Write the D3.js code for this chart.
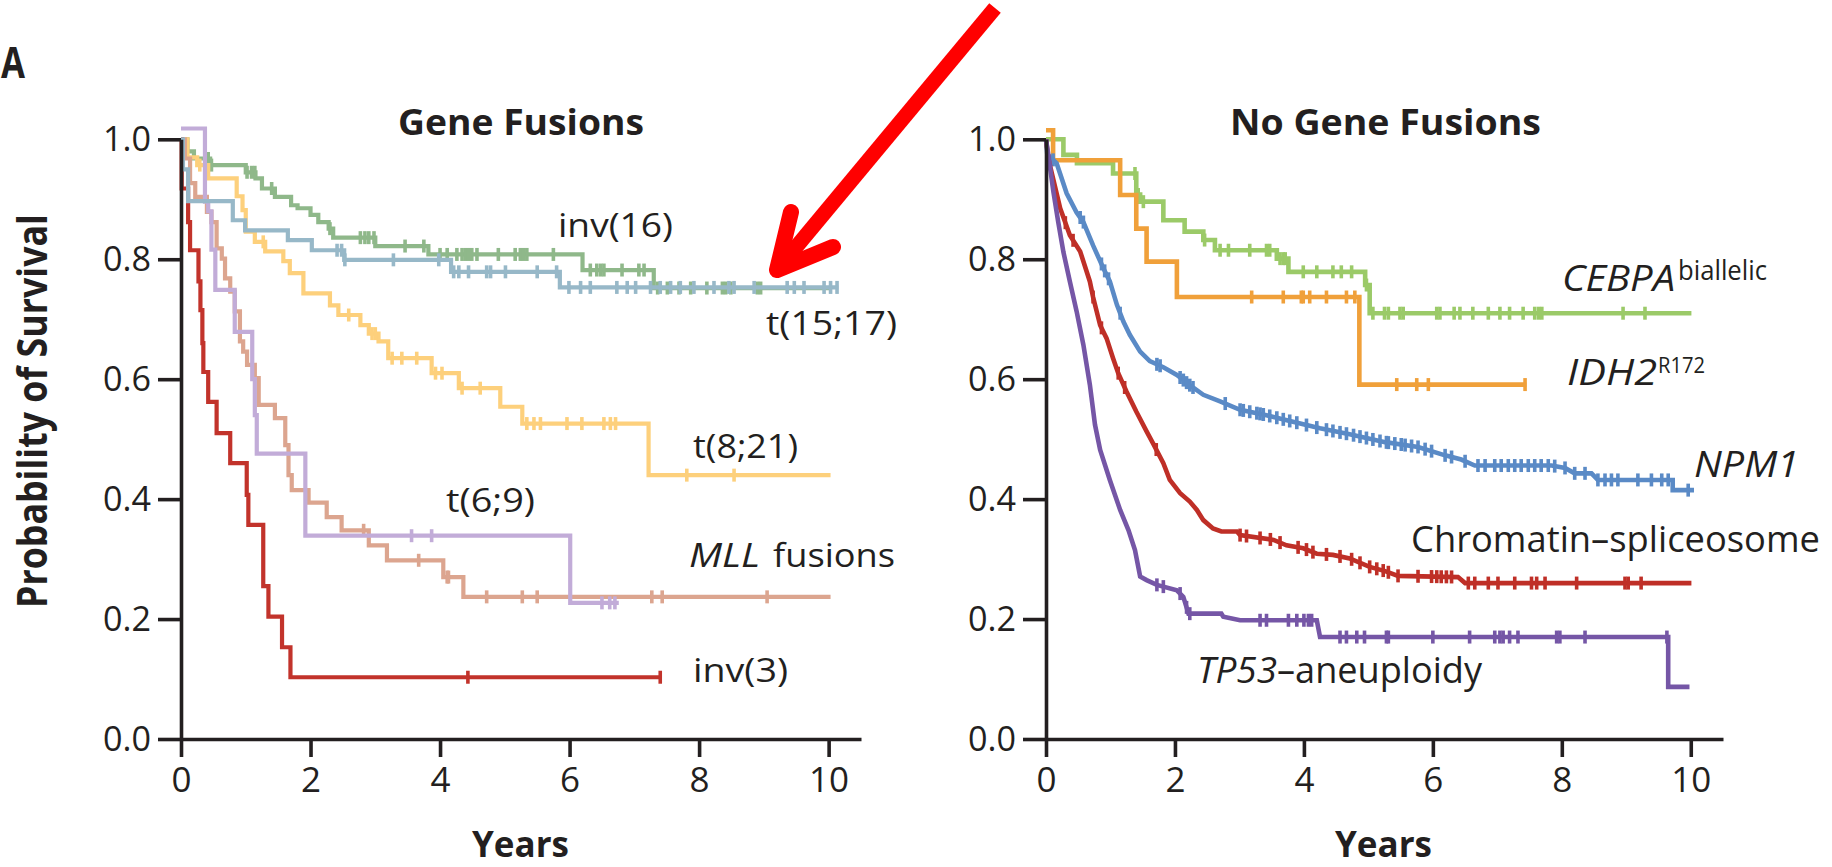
<!DOCTYPE html>
<html><head><meta charset="utf-8">
<script src="https://cdn.jsdelivr.net/npm/d3@7"></script>
<style>html,body{margin:0;padding:0;background:#fff;overflow:hidden}svg{display:block}</style>
</head><body>
<svg id="c" width="1832" height="867"></svg>
<script>
// ---------------- DATA ----------------
const yearTicks = [0, 2, 4, 6, 8, 10];
const survTicks = [0, 0.2, 0.4, 0.6, 0.8, 1.0];
const panelTitles = ["Gene Fusions", "No Gene Fusions"];
const axisTitles = ["Probability of Survival", "Years"];

// Left panel: gene fusions (Kaplan-Meier step points: time in years, survival)
const inv16T = [0, 0.1, 0.2, 0.45, 1.0, 1.15, 1.25, 1.45, 1.7, 1.8, 2.0, 2.12, 2.28, 2.35, 3.0, 3.82, 6.2, 7.3];
const inv16S = [1.0, 0.98, 0.968, 0.957, 0.945, 0.935, 0.918, 0.904, 0.89, 0.885, 0.874, 0.862, 0.851, 0.836, 0.822, 0.808, 0.782, 0.752];
const inv16End = 10.03;
const inv16C = [0.42, 0.47, 1.02, 1.09, 1.14, 1.40, 2.30, 2.77, 2.84, 2.90, 2.98, 3.46, 3.75, 4.0, 4.11, 4.26, 4.34, 4.39, 4.44, 4.49, 4.57, 4.90, 5.16, 5.24, 5.29, 5.34, 5.75, 6.32, 6.42, 6.48, 6.53, 6.81, 7.07, 7.15, 7.36, 7.51, 7.69, 7.87, 8.12, 8.36, 8.41, 8.49, 8.90, 8.95];

const t1517T = [0, 0.03, 0.11, 0.8, 0.99, 1.65, 2.02, 2.52, 4.17, 5.85];
const t1517S = [1.0, 0.95, 0.897, 0.865, 0.848, 0.832, 0.815, 0.799, 0.779, 0.753];
const t1517End = 10.15;
const t1517C = [2.41, 2.48, 2.53, 3.28, 3.98, 4.21, 4.29, 4.44, 4.72, 4.78, 5.01, 5.50, 5.80, 5.99, 6.17, 6.32, 6.73, 6.89, 7.02, 7.25, 7.40, 7.56, 7.71, 7.92, 8.23, 8.46, 8.54, 8.85, 9.36, 9.47, 9.62, 9.93, 10.03, 10.13];

const t821T = [0, 0.1, 0.25, 0.42, 0.86, 0.95, 1.0, 1.14, 1.30, 1.58, 1.68, 1.89, 2.30, 2.43, 2.77, 2.90, 3.05, 3.20, 3.87, 4.29, 4.93, 5.27, 7.22];
const t821S = [1.0, 0.97, 0.957, 0.935, 0.905, 0.882, 0.846, 0.829, 0.813, 0.797, 0.777, 0.743, 0.723, 0.707, 0.690, 0.676, 0.663, 0.635, 0.610, 0.585, 0.554, 0.526, 0.440];
const t821End = 10.03;
const t821C = [0.29, 0.37, 1.27, 2.59, 2.95, 3.0, 3.26, 3.41, 3.64, 3.93, 4.03, 4.34, 4.62, 5.34, 5.45, 5.55, 5.96, 6.19, 6.53, 6.63, 6.71, 7.81, 8.54];

const t69T = [0, 0.37, 0.42, 0.47, 0.53, 0.83, 1.1, 1.14, 1.17, 1.92, 6.01];
const t69S = [1.018, 0.896, 0.88, 0.816, 0.749, 0.679, 0.6, 0.54, 0.476, 0.339, 0.227];
const t69End = 6.76;
const t69C = [3.56, 3.87, 6.50, 6.62, 6.70];

const mllT = [0, 0.06, 0.14, 0.22, 0.40, 0.47, 0.55, 0.63, 0.68, 0.76, 0.83, 0.91, 0.96, 1.02, 1.14, 1.20, 1.45, 1.61, 1.66, 1.71, 1.97, 2.25, 2.48, 2.90, 3.18, 4.05, 4.36];
const mllS = [1.0, 0.968, 0.927, 0.904, 0.879, 0.862, 0.818, 0.801, 0.768, 0.746, 0.713, 0.663, 0.646, 0.624, 0.602, 0.557, 0.535, 0.49, 0.44, 0.415, 0.394, 0.370, 0.348, 0.323, 0.298, 0.27, 0.237];
const mllEnd = 10.03;
const mllC = [2.82, 3.67, 4.11, 4.13, 4.72, 5.27, 5.50, 7.27, 7.43, 9.05];

const inv3T = [0, 0.01, 0.11, 0.14, 0.27, 0.30, 0.33, 0.345, 0.42, 0.55, 0.76, 1.015, 1.04, 1.27, 1.35, 1.56, 1.69];
const inv3S = [1.0, 0.918, 0.862, 0.815, 0.763, 0.715, 0.66, 0.612, 0.562, 0.510, 0.46, 0.407, 0.357, 0.255, 0.204, 0.153, 0.103];
const inv3End = 7.40;
const inv3C = [4.43, 7.40];

// Right panel: no gene fusions
const cebpaT = [0, 0.27, 0.48, 1.04, 1.40, 1.46, 1.82, 2.15, 2.44, 2.62, 3.58, 3.76, 4.95, 5.02];
const cebpaS = [1.0, 0.974, 0.96, 0.943, 0.908, 0.896, 0.865, 0.846, 0.832, 0.815, 0.801, 0.779, 0.757, 0.710];
const cebpaEnd = 10.01;
const cebpaC = [1.38, 1.43, 1.51, 2.46, 2.70, 2.83, 3.16, 3.42, 3.47, 3.63, 3.68, 3.71, 3.99, 4.20, 4.45, 4.58, 4.74, 4.97, 5.07, 5.25, 5.31, 5.49, 5.54, 6.06, 6.11, 6.33, 6.42, 6.62, 6.86, 7.04, 7.19, 7.40, 7.58, 7.64, 7.69, 8.95, 9.29];

const idh2T = [0, 0.11, 1.15, 1.40, 1.56, 2.03, 4.86];
const idh2S = [1.015, 0.965, 0.907, 0.851, 0.796, 0.737, 0.591];
const idh2End = 7.45;
const idh2C = [3.19, 3.68, 3.96, 3.99, 4.09, 4.35, 4.66, 4.79, 5.44, 5.75, 5.93, 7.43];

const npm1T = [0, 0.02, 0.165, 0.32, 0.475, 0.58, 0.73, 0.89, 0.99, 1.10, 1.20, 1.30, 1.46, 1.61, 1.82, 2.03, 2.23, 2.44, 2.70, 3.01, 3.42, 3.83, 4.25, 4.71, 5.26, 5.77, 6.19, 6.44, 6.65, 7.84, 8.05, 8.20, 8.46, 8.56, 9.72, 9.72, 10.05];
const npm1S = [1.0, 0.975, 0.96, 0.91, 0.878, 0.862, 0.823, 0.785, 0.763, 0.724, 0.696, 0.674, 0.646, 0.63, 0.62, 0.607, 0.59, 0.574, 0.563, 0.549, 0.54, 0.529, 0.518, 0.508, 0.495, 0.487, 0.473, 0.466, 0.456, 0.456, 0.452, 0.443, 0.443, 0.432, 0.432, 0.415, 0.415];
const npm1C = [0.11, 0.53, 0.58, 0.86, 0.91, 0.97, 1.15, 1.72, 1.77, 2.08, 2.13, 2.18, 2.23, 2.28, 2.78, 3.01, 3.06, 3.16, 3.27, 3.32, 3.37, 3.47, 3.58, 3.68, 3.78, 3.89, 4.04, 4.2, 4.35, 4.45, 4.56, 4.66, 4.77, 4.87, 4.97, 5.07, 5.18, 5.28, 5.31, 5.41, 5.51, 5.57, 5.67, 5.77, 5.88, 5.98, 6.19, 6.29, 6.5, 6.7, 6.81, 6.96, 7.06, 7.17, 7.27, 7.37, 7.48, 7.58, 7.68, 7.79, 7.89, 8.05, 8.2, 8.36, 8.56, 8.67, 8.77, 8.87, 9.18, 9.39, 9.55, 9.65, 9.96];

const chromT = [0, 0.036, 0.22, 0.37, 0.53, 0.68, 0.73, 0.84, 0.94, 1.04, 1.12, 1.25, 1.40, 1.56, 1.66, 1.82, 1.92, 2.08, 2.23, 2.34, 2.44, 2.59, 2.72, 2.96, 3.01, 3.53, 3.73, 3.99, 4.20, 4.45, 4.71, 5.02, 5.26, 5.46, 6.39, 6.50, 10.01];
const chromS = [1.0, 0.968, 0.885, 0.840, 0.813, 0.763, 0.737, 0.690, 0.668, 0.635, 0.610, 0.579, 0.546, 0.513, 0.493, 0.46, 0.432, 0.41, 0.396, 0.382, 0.365, 0.351, 0.346, 0.346, 0.34, 0.332, 0.323, 0.318, 0.309, 0.307, 0.301, 0.287, 0.28, 0.272, 0.27, 0.26, 0.26];
const chromC = [0.30, 0.42, 0.73, 0.86, 1.12, 1.22, 1.71, 3.01, 3.11, 3.32, 3.48, 3.63, 3.91, 4.04, 4.14, 4.35, 4.56, 4.74, 4.87, 5.02, 5.13, 5.23, 5.31, 5.46, 5.77, 5.98, 6.06, 6.13, 6.21, 6.29, 6.55, 6.65, 6.86, 7.01, 7.27, 7.53, 7.61, 7.74, 8.23, 8.98, 9.03, 9.23];

const tp53T = [0, 0.036, 0.114, 0.19, 0.27, 0.37, 0.475, 0.58, 0.68, 0.76, 0.84, 0.99, 1.15, 1.28, 1.38, 1.46, 1.56, 1.72, 2.03, 2.13, 2.21, 2.72, 2.75, 3.01, 4.20, 4.25, 9.65, 9.65, 9.98];
const tp53S = [1.0, 0.974, 0.913, 0.862, 0.812, 0.763, 0.713, 0.657, 0.591, 0.524, 0.482, 0.432, 0.382, 0.348, 0.315, 0.271, 0.265, 0.257, 0.248, 0.237, 0.209, 0.209, 0.204, 0.198, 0.198, 0.170, 0.170, 0.087, 0.087];
const tp53C = [1.72, 1.82, 2.08, 2.18, 2.23, 3.32, 3.42, 3.76, 3.89, 4.0, 4.07, 4.12, 4.56, 4.66, 4.82, 4.94, 5.28, 5.31, 6.0, 6.57, 6.96, 7.04, 7.09, 7.19, 7.32, 7.92, 7.97, 8.36, 9.63];

// ---------------- SERIES TABLES ----------------
const leftSeries = [
  {name: "inv(16)",  t: inv16T, s: inv16S, end: inv16End, c: inv16C, color: "#8fb88a", step: true},
  {name: "t(8;21)",  t: t821T,  s: t821S,  end: t821End,  c: t821C,  color: "#fdd07c", step: true},
  {name: "MLL fusions", t: mllT, s: mllS,  end: mllEnd,   c: mllC,   color: "#dca58f", step: true},
  {name: "t(6;9)",   t: t69T,   s: t69S,   end: t69End,   c: t69C,   color: "#c2acd8", step: true},
  {name: "inv(3)",   t: inv3T,  s: inv3S,  end: inv3End,  c: inv3C,  color: "#c2332b", step: true},
  {name: "t(15;17)", t: t1517T, s: t1517S, end: t1517End, c: t1517C, color: "#97b8c8", step: true}
];
const rightSeries = [
  {name: "CEBPA", t: cebpaT, s: cebpaS, end: cebpaEnd, c: cebpaC, color: "#9bca68", step: true},
  {name: "IDH2",  t: idh2T,  s: idh2S,  end: idh2End,  c: idh2C,  color: "#f0a03a", step: true},
  {name: "NPM1",  t: npm1T,  s: npm1S,  c: npm1C,  color: "#5a8ac6", step: false},
  {name: "Chromatin–spliceosome", t: chromT, s: chromS, c: chromC, color: "#bf2f27", step: false},
  {name: "TP53–aneuploidy", t: tp53T, s: tp53S, c: tp53C, color: "#7556a6", step: false}
];

// ---------------- DRAWING ----------------
const svg = d3.select("#c");
const FONT = "'Open Sans', 'Noto Sans', sans-serif";
const INK = "#231f20";

const y = d3.scaleLinear().domain([0, 1]).range([739, 139.3]);
const xL = d3.scaleLinear().domain([0, 10.5]).range([181, 861]);
const xR = d3.scaleLinear().domain([0, 10.5]).range([1046, 1723]);

function drawAxes(x) {
  const gy = svg.append("g").attr("transform", `translate(${x(0)},0)`).attr("color", INK)
    .call(d3.axisLeft(y).tickValues(survTicks).tickFormat(d3.format(".1f"))
      .tickSize(23).tickSizeOuter(0).tickPadding(7));
  const gx = svg.append("g").attr("transform", `translate(0,${y(0)})`).attr("color", INK)
    .call(d3.axisBottom(x).tickValues(yearTicks).tickFormat(d3.format("d"))
      .tickSize(18).tickSizeOuter(0).tickPadding(10));
  [gx, gy].forEach(g => {
    g.selectAll("path, line").attr("stroke-width", 3.6);
    g.selectAll("text").attr("font-family", FONT).attr("font-size", 35).attr("fill", INK);
  });
  gy.selectAll("text").attr("textLength", 48).attr("lengthAdjust", "spacingAndGlyphs");
}

function evalS(se, t) {
  const T = se.t, S = se.s;
  if (se.step) {
    let v = S[0];
    for (let i = 0; i < T.length; i++) if (T[i] <= t) v = S[i];
    return v;
  }
  for (let i = 0; i < T.length - 1; i++) {
    if (t >= T[i] && t < T[i + 1]) return S[i] + (S[i + 1] - S[i]) * (t - T[i]) / (T[i + 1] - T[i]);
  }
  return S[S.length - 1];
}

function drawSeries(x, list, w) {
  const g = svg.append("g");
  list.forEach(se => {
    const pts = se.t.map((t, i) => [t, se.s[i]]);
    if (se.end !== undefined) pts.push([se.end, se.s[se.s.length - 1]]);
    const line = d3.line().x(d => x(d[0])).y(d => y(d[1]))
      .curve(se.step ? d3.curveStepAfter : d3.curveLinear);
    g.append("path").attr("d", line(pts)).attr("fill", "none")
      .attr("stroke", se.color).attr("stroke-width", w).attr("stroke-linejoin", "miter");
    g.selectAll(null).data(se.c).enter().append("line")
      .attr("x1", d => x(d)).attr("x2", d => x(d))
      .attr("y1", d => y(evalS(se, d)) - 6.5).attr("y2", d => y(evalS(se, d)) + 6.5)
      .attr("stroke", se.color).attr("stroke-width", 3.6);
  });
}

function label(str, x, yb, size, width, o = {}) {
  const t = svg.append("text").attr("x", x).attr("y", yb).text(str)
    .attr("font-family", FONT).attr("font-size", size).attr("fill", INK)
    .attr("font-style", o.italic ? "italic" : "normal")
    .attr("font-weight", o.bold ? 700 : 400);
  if (width) t.attr("textLength", width).attr("lengthAdjust", "spacingAndGlyphs");
  if (o.anchor) t.attr("text-anchor", o.anchor);
  return t;
}

drawSeries(xL, leftSeries, 4.2);
drawSeries(xR, rightSeries, 4.6);
drawAxes(xL);
drawAxes(xR);

// panel letter
label("A", 1, 78, 43, 24, {bold: true});
// titles
label(panelTitles[0], 398, 135, 35, 246, {bold: true});
label(panelTitles[1], 1230, 135, 35, 311, {bold: true});
label(axisTitles[1], 472, 857, 35, 97, {bold: true});
label(axisTitles[1], 1335, 857, 35, 97, {bold: true});
svg.append("text").attr("transform", "translate(47,411) rotate(-90)")
  .attr("text-anchor", "middle").attr("font-family", FONT).attr("font-weight", 700)
  .attr("font-size", 41).attr("fill", INK)
  .attr("textLength", 394).attr("lengthAdjust", "spacingAndGlyphs").text(axisTitles[0]);

// left curve labels
label(leftSeries[0].name, 558, 236.5, 33, 115);
label(leftSeries[5].name, 766, 335, 33, 131);
label(leftSeries[1].name, 693, 458, 33, 105);
label(leftSeries[3].name, 446, 511.5, 33, 89);
label("MLL", 689, 566.7, 33, 71, {italic: true});
label("fusions", 773, 566.7, 33, 122);
label(leftSeries[4].name, 693, 682, 33, 95);

// right curve labels
label("CEBPA", 1562, 291, 37, 113, {italic: true});
label("biallelic", 1678, 280, 28, 89);
label("IDH2", 1567, 385, 37, 90, {italic: true});
label("R172", 1658, 373, 21, 47);
label("NPM1", 1694, 477, 36, 105, {italic: true});
label(rightSeries[3].name, 1411, 551.5, 36, 409);
label("TP53", 1197, 683, 37, 80, {italic: true});
label("–aneuploidy", 1277, 683, 37, 205);

// red annotation arrow
const arrow = svg.append("g").attr("fill", "none").attr("stroke", "#ff0000");
arrow.append("path").attr("d", d3.line()([[995, 8], [777, 270]]))
  .attr("stroke-width", 15).attr("stroke-linecap", "butt");
arrow.append("path").attr("d", d3.line()([[791, 212], [777, 270], [833, 247]]))
  .attr("stroke-width", 16).attr("stroke-linecap", "round").attr("stroke-linejoin", "round");
</script>
</body></html>
